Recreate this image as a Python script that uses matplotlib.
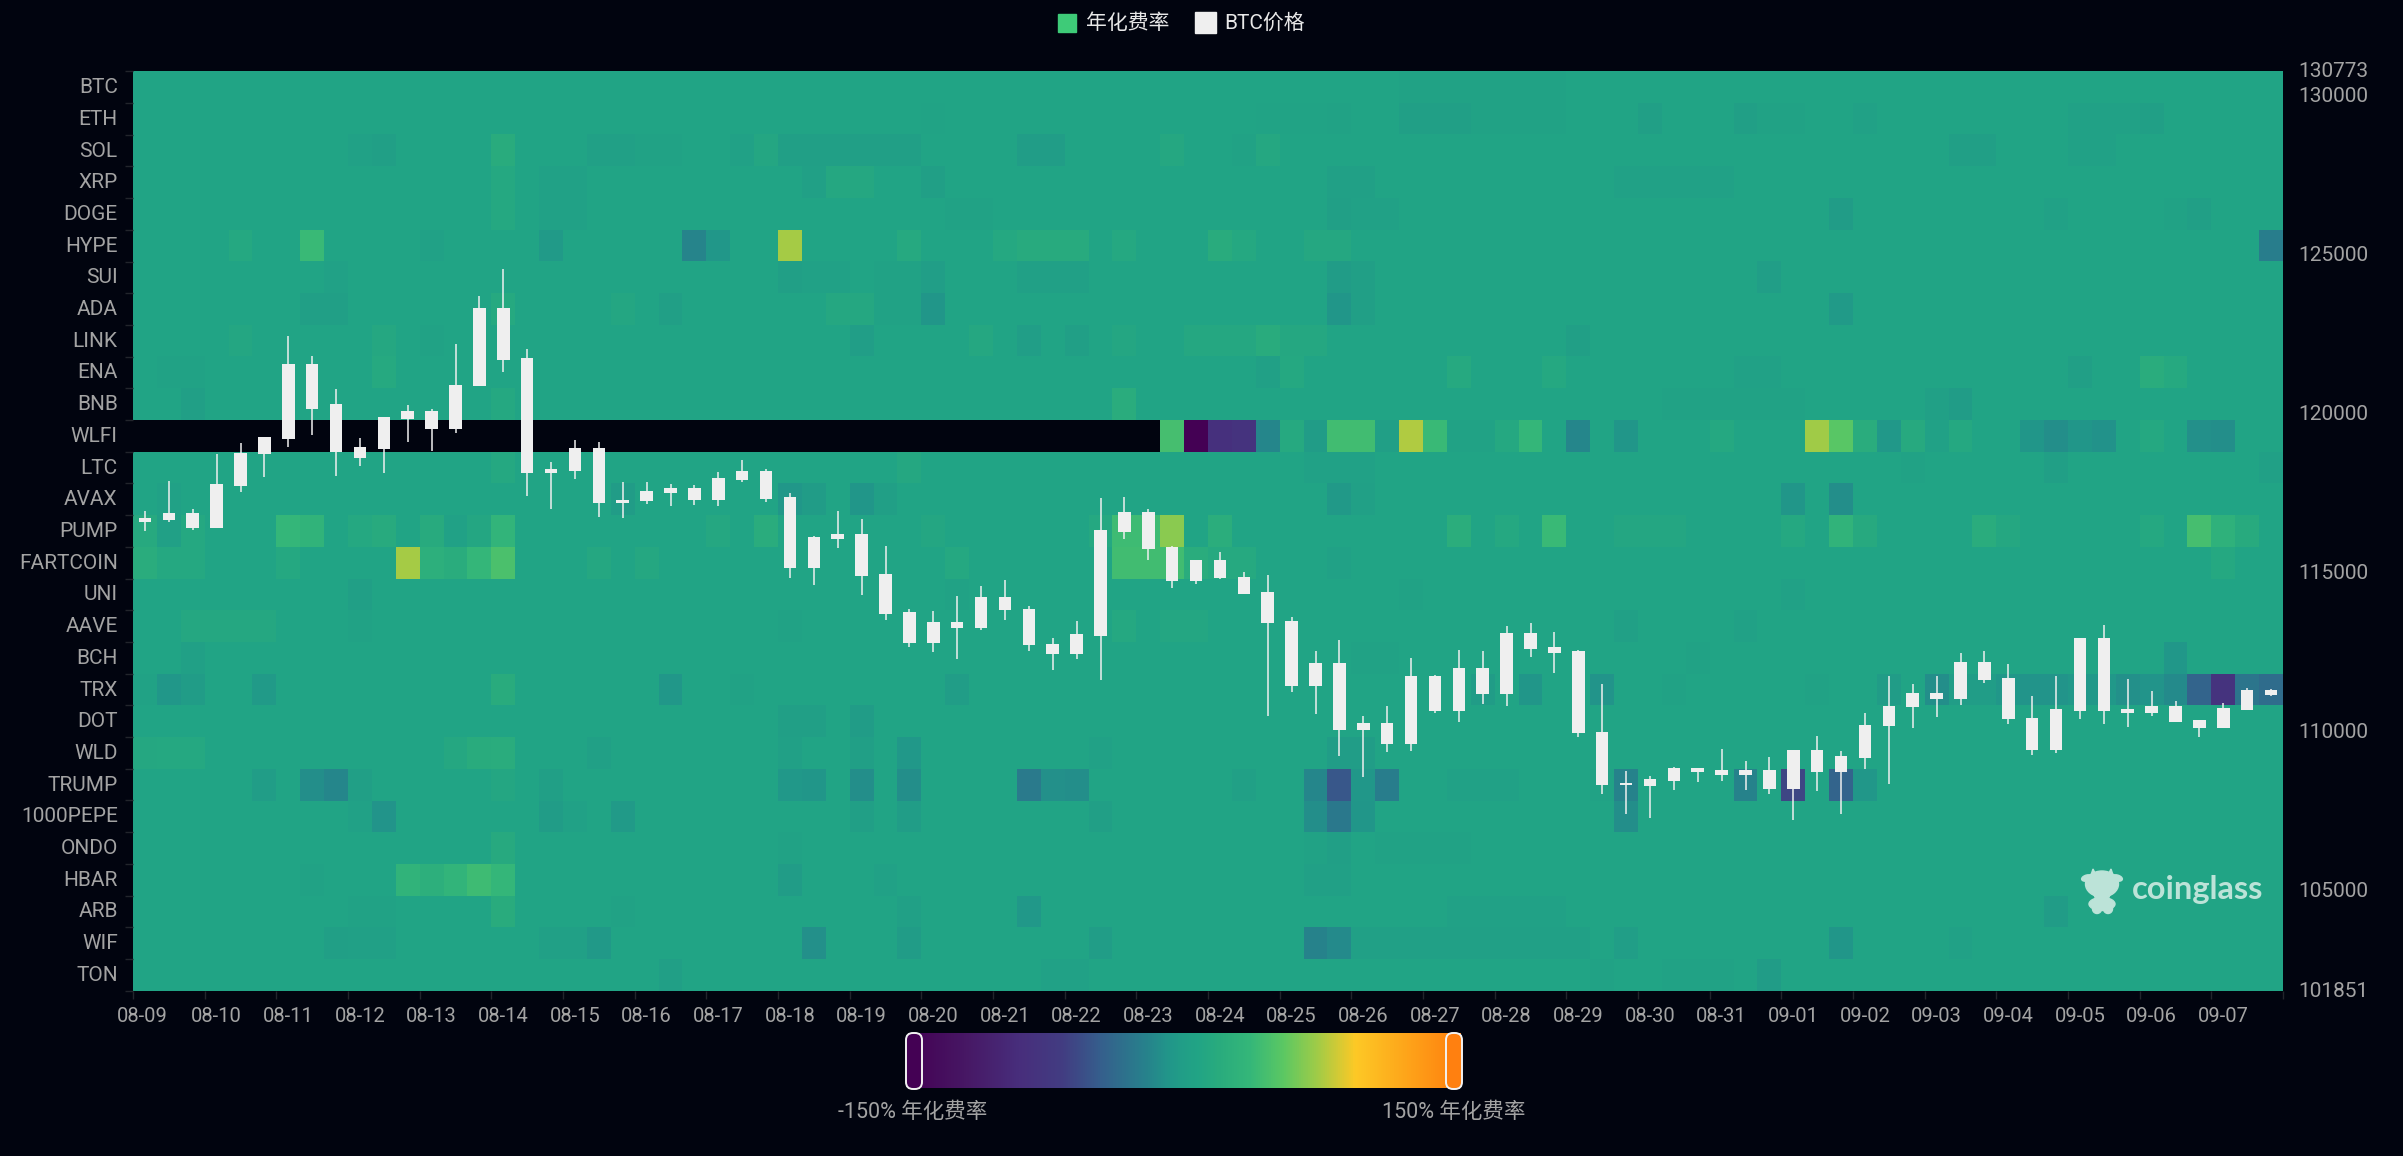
import numpy as np
import matplotlib
matplotlib.use('Agg')
import matplotlib.pyplot as plt
from matplotlib.colors import LinearSegmentedColormap
from matplotlib.patches import Rectangle, FancyBboxPatch, Ellipse, Polygon
from matplotlib.transforms import ScaledTranslation

plt.rcParams['font.family'] = ['Roboto', 'Noto Sans CJK SC', 'DejaVu Sans']

coins = ['BTC', 'ETH', 'SOL', 'XRP', 'DOGE', 'HYPE', 'SUI', 'ADA', 'LINK', 'ENA', 'BNB', 'WLFI', 'LTC', 'AVAX',
         'PUMP', 'FARTCOIN', 'UNI', 'AAVE', 'BCH', 'TRX', 'DOT', 'WLD', 'TRUMP', '1000PEPE', 'ONDO', 'HBAR',
         'ARB', 'WIF', 'TON']
dates = ['08-09', '08-10', '08-11', '08-12', '08-13', '08-14', '08-15', '08-16', '08-17', '08-18',
         '08-19', '08-20', '08-21', '08-22', '08-23', '08-24', '08-25', '08-26', '08-27', '08-28',
         '08-29', '08-30', '08-31', '09-01', '09-02', '09-03', '09-04', '09-05', '09-06', '09-07']
price_ticks = [101851, 105000, 110000, 115000, 120000, 125000, 130000, 130773]

# BTC 8h candles, every value
highs = [116953, 117897, 116995, 118735, 119082, 119281, 122447, 121818, 120791, 119249,
         119910, 120266, 120151, 122206, 123706, 124545, 122038, 118494, 119176, 119113,
         117854, 117854, 117791, 117771, 118180, 118557, 118253, 117498, 116156, 116931,
         116690, 115841, 113849, 113807, 114278, 114572, 114771, 113943, 112936, 113482,
         117340, 117393, 116994, 115841, 115400, 115642, 115034, 114918, 113618, 112538,
         112894, 110504, 110818, 112328, 111772, 112569, 112548, 113324, 113429, 113146,
         112580, 111489, 108773, 108606, 108878, 108868, 109444, 109067, 109203, 109424,
         109874, 109403, 110598, 111741, 111489, 111741, 112464, 112538, 112139, 111112,
         111741, 112947, 113345, 111657, 111269, 110965, 110357, 110892, 111363, 111332]
tops = [116732, 116869, 116869, 117802, 118778, 119281, 121556, 121556, 120298, 118955,
        119900, 120099, 120099, 120916, 123339, 123339, 121766, 118264, 118924, 118924,
        117288, 117572, 117655, 117655, 117970, 118211, 118211, 117372, 116124, 116208,
        116208, 114960, 113754, 113461, 113461, 114237, 114237, 113859, 112769, 113062,
        116334, 116921, 116921, 115799, 115390, 115390, 114876, 114394, 113471, 112171,
        112171, 110273, 110273, 111741, 111741, 111992, 111992, 113104, 113104, 112664,
        112527, 109990, 108375, 108501, 108847, 108847, 108784, 108784, 108784, 109424,
        109424, 109224, 110210, 110818, 111217, 111217, 112192, 112192, 111688, 110441,
        110713, 112936, 112936, 110713, 110818, 110808, 110357, 110734, 111300, 111300]
bottoms = [116596, 116670, 116397, 116397, 117739, 118725, 119218, 120161, 118809, 118609,
           118903, 119837, 119512, 119512, 120864, 121703, 118148, 118148, 118200, 117194,
           117183, 117247, 117519, 117299, 117299, 117907, 117320, 115138, 115138, 116061,
           114897, 113702, 112800, 112800, 113272, 113272, 113817, 112716, 112433, 112433,
           113010, 116292, 115747, 114750, 114750, 114824, 114341, 113429, 111447, 111447,
           110053, 110042, 109602, 109602, 110661, 110661, 111175, 111175, 112611, 112475,
           109948, 108322, 108312, 108302, 108438, 108731, 108637, 108637, 108186, 108186,
           108721, 108721, 109161, 110168, 110766, 111017, 111017, 111636, 110388, 109424,
           109424, 110650, 110650, 110587, 110587, 110294, 110116, 110116, 110692, 111143]
lows = [116303, 116596, 116345, 116397, 117550, 118012, 118945, 119333, 118043, 118368,
        118148, 119123, 118820, 119407, 120864, 121305, 117414, 117005, 117959, 116743,
        116732, 117162, 117089, 117131, 117110, 117865, 117236, 114824, 114604, 115768,
        114300, 113513, 112664, 112496, 112297, 113198, 113513, 112548, 111940, 112276,
        111625, 116051, 115400, 114509, 114646, 114813, 114331, 110493, 111248, 110545,
        109235, 108564, 109350, 109403, 110598, 110315, 110860, 110808, 112349, 111835,
        109843, 108039, 107421, 107295, 108165, 108417, 108459, 108155, 108029, 107221,
        108134, 107421, 108836, 108343, 110116, 110472, 110850, 111542, 110241, 109266,
        109319, 110388, 110241, 110157, 110493, 110294, 109843, 110116, 110671, 111112]

# annualised funding %, most cells sit at the usual rate, only the ones that differ are listed
usual_rate = 8
wlfi_listed_col = 43
rates = {
    'BTC': {53: 5, 54: 5, 55: 5, 56: 5, 57: 5, 58: 5, 59: 5},
    'ETH': {33: 6, 47: 6, 48: 6, 49: 6, 50: 5, 53: 0, 54: 0, 55: 0, 56: 4, 57: 4, 58: 4, 59: 4, 63: 1, 67: 0, 68: 4,
            69: 4, 72: 3, 81: 3, 82: 3, 83: 3, 84: 1},
    'SOL': {9: 3, 10: 0, 15: 18, 19: 2, 20: 2, 21: 4, 22: 4, 25: 3, 26: 11, 27: 1, 28: 0, 29: 0, 30: 1, 31: 1, 32: 1,
            37: -2, 38: -2, 43: 12, 46: 4, 47: 12, 76: 0, 77: 0, 81: 3, 82: 3},
    'XRP': {15: 14, 17: 3, 18: 3, 28: 2, 29: 12, 30: 12, 33: 0, 50: 2, 51: 2, 62: 3, 63: 3, 64: 3, 65: 3, 66: 3},
    'DOGE': {15: 13, 17: 3, 18: 3, 34: 5, 35: 5, 50: 0, 51: 3, 52: 3, 71: -3, 80: 3, 85: 5, 86: 0},
    'HYPE': {4: 14, 7: 38, 12: 3, 17: -4, 23: -19, 24: -8, 27: 73, 32: 15, 36: 13, 37: 17, 38: 17, 39: 17, 41: 14,
             45: 19, 46: 14, 49: 12, 50: 12, 89: -24},
    'SUI': {8: 3, 27: 0, 28: 3, 29: 3, 31: 4, 32: 4, 33: -1, 37: 2, 38: 2, 39: 2, 50: -3, 51: 1, 68: -1},
    'ADA': {7: 1, 8: 1, 15: 15, 20: 11, 22: 0, 29: 12, 30: 12, 31: 4, 32: 4, 33: -9, 50: -9, 51: 0, 71: -4},
    'LINK': {4: 11, 10: 12, 12: 5, 30: -1, 35: 12, 37: -1, 39: 0, 41: 11, 44: 12, 45: 12, 46: 12, 47: 18, 48: 12,
             49: 12, 60: 0},
    'ENA': {1: 5, 2: 5, 10: 15, 47: 2, 48: 13, 55: 15, 59: 13, 67: 3, 68: 3, 81: 1, 84: 21, 85: 15},
    'BNB': {2: 0, 15: 13, 41: 20, 64: 4, 65: 4, 66: 4, 67: 4, 68: 4, 69: 4, 75: 2, 76: -3},
    'WLFI': {43: 44, 44: -150, 45: -85, 46: -80, 47: -18, 48: 15, 49: -3, 50: 42, 51: 42, 52: 0, 53: 76, 54: 38,
             55: 5, 56: 5, 57: 13, 58: 35, 60: -18, 62: -9, 66: 14, 70: 72, 71: 52, 72: 20, 73: -6, 74: 16, 75: 3,
             76: 14, 79: -9, 80: -13, 81: -9, 82: -11, 84: 13, 86: -12, 87: -13},
    'LTC': {15: 13, 32: 12, 49: 3, 50: 3, 51: 3, 74: 4, 80: 0, 89: 2},
    'AVAX': {1: 3, 20: -3, 27: -8, 28: -3, 30: -9, 31: 0, 50: -5, 51: 2, 69: -9, 71: -14},
    'PUMP': {0: 16, 1: 2, 2: 14, 6: 36, 7: 30, 9: 14, 10: 17, 12: 17, 13: 3, 14: 11, 15: 32, 24: 12, 26: 20, 33: 11,
             40: 14, 41: 40, 42: 40, 43: 66, 45: 22, 55: 22, 57: 13, 59: 38, 62: 11, 63: 11, 64: 11, 69: 13, 71: 30,
             72: 16, 77: 20, 78: 12, 84: 13, 86: 44, 87: 28, 88: 17},
    'FARTCOIN': {0: 20, 1: 13, 2: 13, 6: 13, 11: 73, 12: 24, 13: 20, 14: 34, 15: 46, 19: 12, 21: 12, 34: 13, 41: 42,
                 42: 42, 43: 42, 44: 20, 45: 15, 46: 15, 50: 3, 87: 13},
    'UNI': {9: 0, 34: 5, 53: 4, 69: 3},
    'AAVE': {2: 12, 3: 12, 4: 12, 5: 12, 9: 4, 27: 4, 41: 13, 43: 11, 44: 11, 62: 2, 67: 3},
    'BCH': {2: 2, 51: 4, 52: 4, 65: 5, 85: -8},
    'TRX': {0: 4, 1: -8, 2: -3, 5: -4, 15: 18, 22: -8, 25: 4, 34: -2, 56: -3, 58: -9, 61: -10, 64: 4, 70: 4, 73: -3,
            75: -14, 76: -2, 77: -2, 78: -8, 79: -10, 80: -10, 81: -6, 82: -6, 83: -12, 84: -10, 85: -16, 86: -42,
            87: -80, 88: -30, 89: -36},
    'DOT': {27: 1, 28: 1, 30: -3},
    'WLD': {0: 12, 1: 14, 2: 14, 13: 12, 14: 19, 15: 21, 19: 2, 27: 2, 30: 0, 32: -6, 40: 3, 50: -2, 51: -2},
    'TRUMP': {5: -2, 7: -13, 8: -18, 9: 0, 15: 11, 17: 1, 27: -6, 28: -9, 30: -14, 32: -14, 37: -26, 38: -12, 39: -13,
              46: 2, 49: -18, 50: -50, 51: -8, 52: -24, 55: 3, 56: 3, 57: 3, 61: 4, 62: -20, 67: -20, 69: -60, 71: -42,
              72: -8},
    '1000PEPE': {9: 3, 10: -10, 17: -3, 18: 3, 20: -4, 30: 0, 32: -2, 40: 0, 49: -14, 50: -28, 51: -9, 62: -14},
    'ONDO': {15: 16, 27: 4, 49: 4, 50: 0, 52: 4, 53: 4, 54: 4, 55: 4},
    'HBAR': {7: 4, 11: 30, 12: 24, 13: 32, 14: 40, 15: 35, 27: -3, 31: 3, 49: 2, 50: 2},
    'ARB': {9: 5, 10: 5, 15: 18, 20: 4, 32: 2, 37: -6, 55: 3, 56: 3, 57: 3, 58: 3, 59: 3, 80: -3},
    'WIF': {8: 0, 9: 2, 10: 2, 17: 2, 18: 2, 19: -5, 28: -12, 32: -3, 40: -2, 49: -20, 50: -16, 51: 2, 52: 2, 53: 2,
            54: 2, 55: 2, 56: 2, 57: 2, 58: 2, 59: 2, 60: 2, 62: -1, 71: -9, 76: 3},
    'TON': {22: 0, 38: 3, 39: 3, 61: 4, 64: 4, 65: 4, 66: 4, 68: -3},
}

BG = '#01040f'
LABEL = '#a3a3a3'
CANDLE = '#efefef'
W, H = 2403, 1156

funding_cmap = LinearSegmentedColormap.from_list('funding', [
    (0.00, '#440154'), (0.10, '#471764'), (0.20, '#482e7c'), (0.28, '#423d82'), (0.35, '#35608d'),
    (0.43, '#27828c'), (0.47, '#22968a'), (0.50, '#219f87'), (0.527, '#22a585'), (0.56, '#29ab7e'),
    (0.62, '#35b779'), (0.68, '#5cc863'), (0.74, '#9fcc48'), (0.81, '#fdc926'), (1.00, '#ff7f0e')])
funding_cmap.set_bad(BG)

n_cols = len(highs)
grid = np.full((len(coins), n_cols), float(usual_rate))
for r, coin in enumerate(coins):
    for col, val in rates[coin].items():
        grid[r, col] = val
grid[coins.index('WLFI'), :wlfi_listed_col] = np.nan

fig = plt.figure(figsize=(W / 100, H / 100), dpi=100, facecolor=BG)


def nudge(label, dx=0, dy=0):
    # shift a tick label by a few pixels
    label.set_transform(label.get_transform() + ScaledTranslation(dx / 100, dy / 100, fig.dpi_scale_trans))


# heatmap
ax = fig.add_axes([133 / W, 1 - 990.7 / H, 2150 / W, 919.4 / H], facecolor=BG)
ax.imshow(grid, cmap=funding_cmap, vmin=-150, vmax=150, aspect='auto', interpolation='nearest')
for s in ax.spines.values():
    s.set_visible(False)
ax.set_yticks(range(len(coins)), coins, color=LABEL, fontsize=15)
ax.set_yticks(np.arange(len(coins) + 1) - 0.5, minor=True)
ax.set_xticks(range(0, n_cols, 3), dates, color=LABEL, fontsize=14.5)
ax.set_xticks(np.arange(0, n_cols + 1, 3) - 0.5, minor=True)
ax.tick_params(axis='both', which='major', length=0)
ax.tick_params(axis='y', which='major', pad=11)
ax.tick_params(axis='x', which='major', pad=12)
ax.tick_params(axis='both', which='minor', length=6, color='#22252c', width=1)
for lab in ax.get_yticklabels():
    nudge(lab, dy=1.5)
nudge(ax.get_xticklabels()[0], dx=-3)

# candles on the price axis
x = np.arange(n_cols)
ax2 = ax.twinx()
ax2.set_ylim(price_ticks[0], price_ticks[-1])
ax2.vlines(x, lows, highs, color=CANDLE, lw=1.1)
ax2.bar(x, np.array(tops) - np.array(bottoms), bottom=bottoms, width=0.53, color=CANDLE)
for s in ax2.spines.values():
    s.set_visible(False)
ax2.set_yticks(price_ticks, [str(p) for p in price_ticks], color=LABEL, fontsize=15)
ax2.tick_params(axis='y', length=0, pad=11)
for lab in ax2.get_yticklabels():
    nudge(lab, dy=1.5)

# overlay in pixels for legend, slider and watermark
ov = fig.add_axes([0, 0, 1, 1], facecolor='none')
ov.set_xlim(0, W)
ov.set_ylim(H, 0)
ov.axis('off')
ov.set_zorder(5)

ov.add_patch(Rectangle((1058, 14), 18, 18, color='#3ecb78'))
ov.text(1086, 23, '年化费率', color='#e8e8e8', fontsize=15, va='center')
ov.add_patch(Rectangle((1195, 12), 21, 21, color=CANDLE))
ov.text(1224, 23, 'BTC价格', color='#e8e8e8', fontsize=15, va='center')

# colour range slider
cb = fig.add_axes([908 / W, 1 - 1088 / H, 553 / W, 55 / H])
cb.imshow(np.linspace(-150, 150, 512)[None, :], cmap=funding_cmap, vmin=-150, vmax=150, aspect='auto')
cb.axis('off')
for hx, hc in [(906, '#440154'), (1446, '#ff8010')]:
    ov.add_patch(FancyBboxPatch((hx + 7, 1040), 2, 42, boxstyle='round,pad=7,rounding_size=7',
                                fc=hc, ec='#f2f2f2', lw=1.4, zorder=5))
ov.text(913, 1113, '-150% 年化费率', color=LABEL, fontsize=15.5, ha='center', va='center')
ov.text(1454, 1113, '150% 年化费率', color=LABEL, fontsize=15.5, ha='center', va='center')

# watermark
wm = '#bce3d8'
ov.add_patch(Ellipse((2102, 884), 33, 26, color=wm))
ov.add_patch(Ellipse((2087, 878), 11, 6, angle=-15, color=wm))
ov.add_patch(Ellipse((2117, 878), 11, 6, angle=15, color=wm))
ov.add_patch(Polygon([(2093, 869), (2096, 875), (2091, 875)], color=wm))
ov.add_patch(Polygon([(2111, 869), (2113, 875), (2108, 875)], color=wm))
ov.add_patch(Polygon([(2092, 890), (2112, 890), (2107, 902), (2097, 902)], color=wm))
ov.add_patch(Ellipse((2102, 904), 26, 13, color=wm))
ov.add_patch(Ellipse((2097, 909), 9, 9, color=wm))
ov.add_patch(Ellipse((2108, 909), 9, 9, color=wm))
ov.text(2132, 889, 'coinglass', color=wm, fontsize=23.5, fontfamily=['Lato', 'DejaVu Sans'], fontweight='bold',
        va='center')

fig.savefig('out.png', dpi=100, facecolor=BG)
